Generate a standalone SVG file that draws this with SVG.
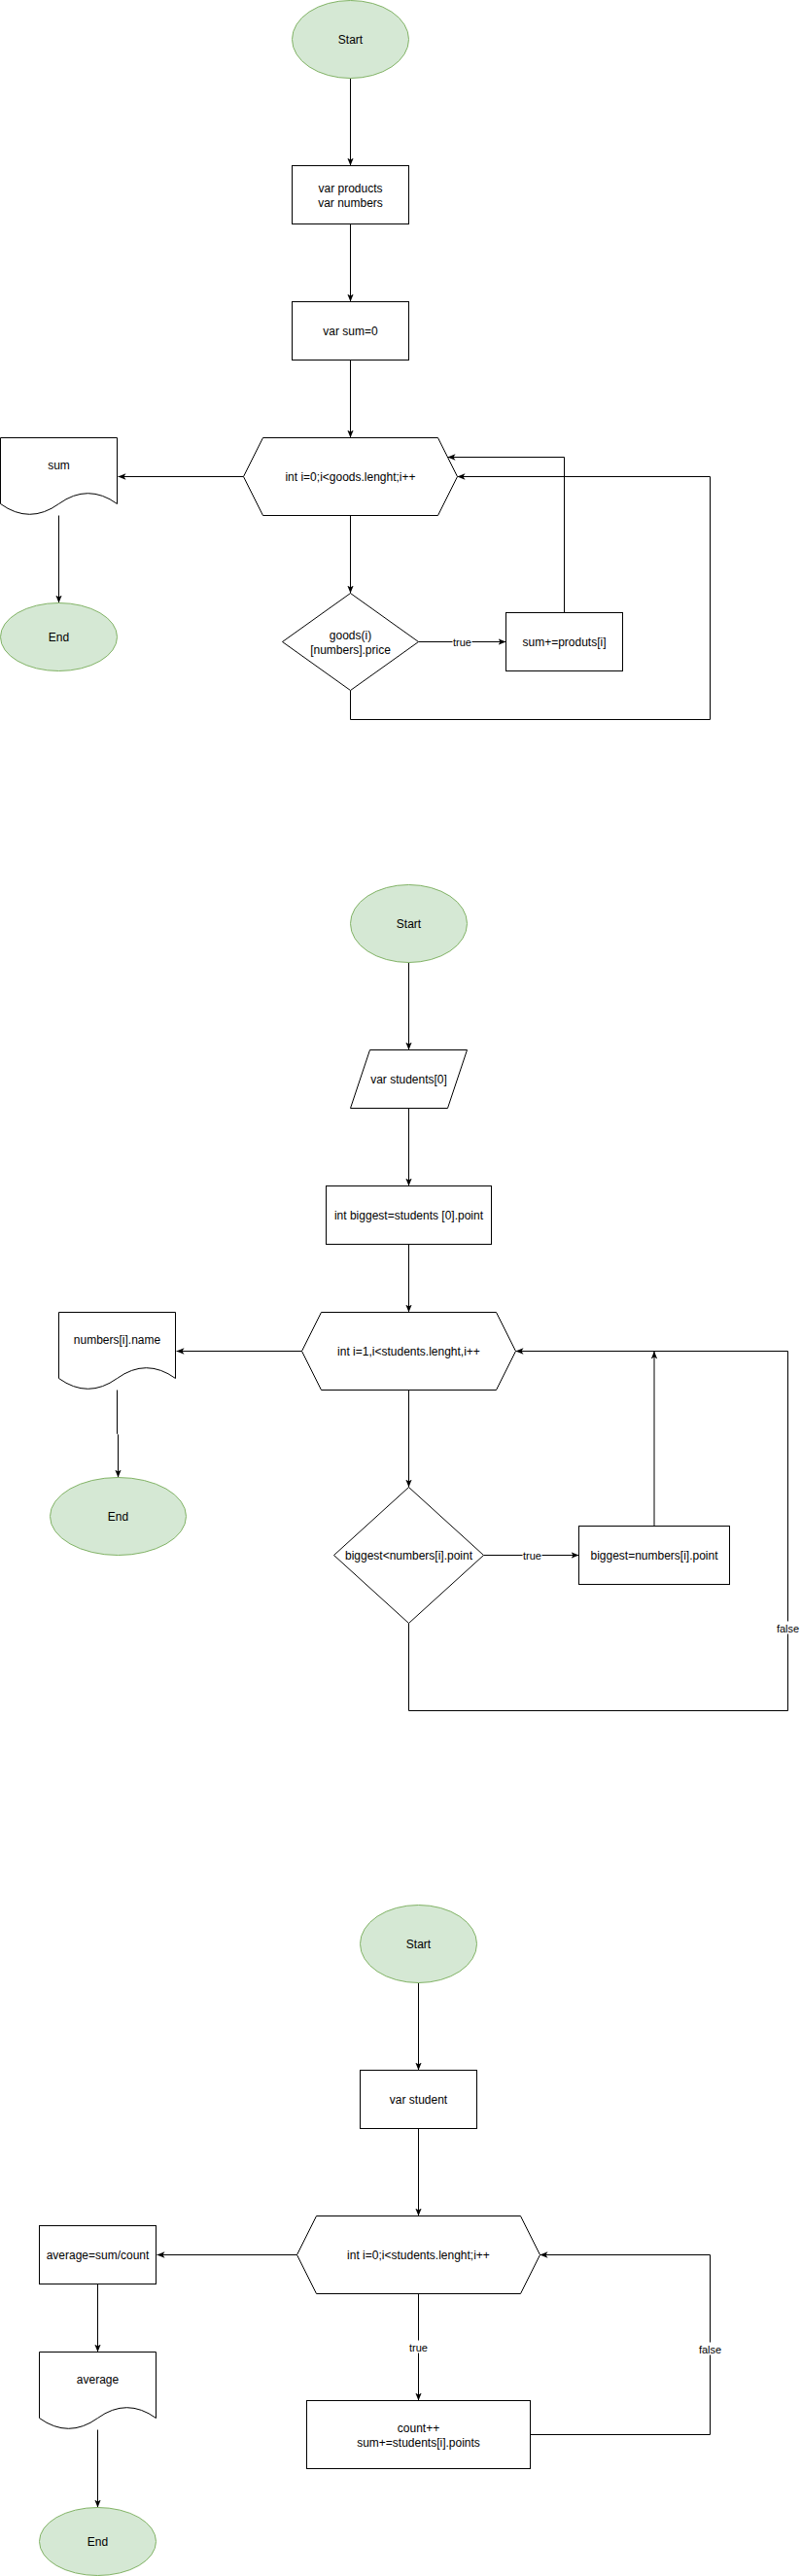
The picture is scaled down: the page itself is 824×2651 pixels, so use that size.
<svg xmlns="http://www.w3.org/2000/svg" width="824" height="2651" viewBox="0 0 824 2651">
<style>
  .term { fill: #d5e8d4; stroke: #82b366; stroke-width: 1; }
  .shape { fill: #ffffff; stroke: #000000; stroke-width: 1; }
  .edge { fill: none; stroke: #000000; stroke-width: 1; }
  .t { font-family: "Liberation Sans", Arial, Helvetica, sans-serif; font-size: 12px; fill: #000000; text-anchor: middle; }
  .lbl { font-family: "Liberation Sans", Arial, Helvetica, sans-serif; font-size: 11px; fill: #000000; text-anchor: middle; }
  .lblbg { fill: #ffffff; stroke: none; }
</style>
<defs>
  <marker id="arr" viewBox="0 0 8 8" refX="8" refY="4" markerWidth="8" markerHeight="8" markerUnits="userSpaceOnUse" orient="auto">
    <path d="M0,0.8 L8,4 L0,7.2 L2,4 Z" fill="#000000"/>
  </marker>
</defs>
<rect x="0" y="0" width="824" height="2651" fill="#ffffff"/>
<g transform="translate(0.5,0.5)">
  <g id="connectors">
    <!-- chart 1 -->
    <path class="edge" d="M360,80 L360,170" marker-end="url(#arr)"/>
    <path class="edge" d="M360,230 L360,310" marker-end="url(#arr)"/>
    <path class="edge" d="M360,370 L360,450" marker-end="url(#arr)"/>
    <path class="edge" d="M250,490 L121,490" marker-end="url(#arr)"/>
    <path class="edge" d="M60,530 L60,620" marker-end="url(#arr)"/>
    <path class="edge" d="M360,530 L360,610" marker-end="url(#arr)"/>
    <path class="edge" d="M430,660 L520,660" marker-end="url(#arr)"/>
    <path class="edge" d="M580,630 L580,470 L460,470" marker-end="url(#arr)"/>
    <path class="edge" d="M360,710 L360,740 L730,740 L730,490 L470,490" marker-end="url(#arr)"/>
    <rect class="lblbg" x="465" y="653" width="20" height="13"/>
    <text class="lbl" x="475" y="664">true</text>
    <!-- chart 2 -->
    <path class="edge" d="M420,990 L420,1080" marker-end="url(#arr)"/>
    <path class="edge" d="M420,1140 L420,1220" marker-end="url(#arr)"/>
    <path class="edge" d="M420,1280 L420,1350" marker-end="url(#arr)"/>
    <path class="edge" d="M310,1390 L181,1390" marker-end="url(#arr)"/>
    <path class="edge" d="M120,1430 L120,1475 L121,1476 L121,1520" marker-end="url(#arr)"/>
    <path class="edge" d="M420,1430 L420,1530" marker-end="url(#arr)"/>
    <path class="edge" d="M497,1600 L595,1600" marker-end="url(#arr)"/>
    <path class="edge" d="M672.5,1570 L672.5,1390" marker-end="url(#arr)"/>
    <path class="edge" d="M420,1670 L420,1760 L810,1760 L810,1390 L530,1390" marker-end="url(#arr)"/>
    <rect class="lblbg" x="537" y="1593" width="20" height="13"/>
    <text class="lbl" x="547" y="1604">true</text>
    <rect class="lblbg" x="798" y="1668" width="25" height="13"/>
    <text class="lbl" x="810" y="1679">false</text>
    <!-- chart 3 -->
    <path class="edge" d="M430,2040 L430,2130" marker-end="url(#arr)"/>
    <path class="edge" d="M430,2190 L430,2280" marker-end="url(#arr)"/>
    <path class="edge" d="M305,2320 L161,2320" marker-end="url(#arr)"/>
    <path class="edge" d="M100,2350 L100,2420" marker-end="url(#arr)"/>
    <path class="edge" d="M100,2500 L100,2580" marker-end="url(#arr)"/>
    <path class="edge" d="M430,2360 L430,2470" marker-end="url(#arr)"/>
    <path class="edge" d="M545,2505 L730,2505 L730,2320 L555,2320" marker-end="url(#arr)"/>
    <rect class="lblbg" x="420" y="2408" width="20" height="13"/>
    <text class="lbl" x="430" y="2419">true</text>
    <rect class="lblbg" x="718" y="2410" width="25" height="13"/>
    <text class="lbl" x="730" y="2421">false</text>
  </g>

  <!-- chart 1 nodes -->
  <g id="start1">
    <ellipse class="term" cx="360" cy="40" rx="60" ry="40"/>
    <text class="t" x="360" y="44">Start</text>
  </g>
  <g id="vars1">
    <rect class="shape" x="300" y="170" width="120" height="60"/>
    <text class="t" x="360" y="197">var products</text>
    <text class="t" x="360" y="212">var numbers</text>
  </g>
  <g id="sum0">
    <rect class="shape" x="300" y="310" width="120" height="60"/>
    <text class="t" x="360" y="344">var sum=0</text>
  </g>
  <g id="loop1">
    <polygon class="shape" points="270,450 450,450 470,490 450,530 270,530 250,490"/>
    <text class="t" x="360" y="494">int i=0;i&lt;goods.lenght;i++</text>
  </g>
  <g id="out1">
    <path class="shape" d="M0,450 L120,450 L120,518 Q90,496.4 60,518 Q30,539.6 0,518 Z"/>
    <text class="t" x="60" y="482">sum</text>
  </g>
  <g id="end1">
    <ellipse class="term" cx="60" cy="655" rx="60" ry="35"/>
    <text class="t" x="60" y="659">End</text>
  </g>
  <g id="cond1">
    <polygon class="shape" points="360,610 430,660 360,710 290,660"/>
    <text class="t" x="360" y="657">goods(i)</text>
    <text class="t" x="360" y="672">[numbers].price</text>
  </g>
  <g id="add1">
    <rect class="shape" x="520" y="630" width="120" height="60"/>
    <text class="t" x="580" y="664">sum+=produts[i]</text>
  </g>

  <!-- chart 2 nodes -->
  <g id="start2">
    <ellipse class="term" cx="420" cy="950" rx="60" ry="40"/>
    <text class="t" x="420" y="954">Start</text>
  </g>
  <g id="input2">
    <polygon class="shape" points="380,1080 480,1080 460,1140 360,1140"/>
    <text class="t" x="420" y="1114">var students[0]</text>
  </g>
  <g id="init2">
    <rect class="shape" x="335" y="1220" width="170" height="60"/>
    <text class="t" x="420" y="1254">int biggest=students [0].point</text>
  </g>
  <g id="loop2">
    <polygon class="shape" points="330,1350 510,1350 530,1390 510,1430 330,1430 310,1390"/>
    <text class="t" x="420" y="1394">int i=1,i&lt;students.lenght,i++</text>
  </g>
  <g id="out2">
    <path class="shape" d="M60,1350 L180,1350 L180,1418 Q150,1396.4 120,1418 Q90,1439.6 60,1418 Z"/>
    <text class="t" x="120" y="1382">numbers[i].name</text>
  </g>
  <g id="end2">
    <ellipse class="term" cx="121" cy="1560" rx="70" ry="40"/>
    <text class="t" x="121" y="1564">End</text>
  </g>
  <g id="cond2">
    <polygon class="shape" points="420,1530 497,1600 420,1670 343,1600"/>
    <text class="t" x="420" y="1604">biggest&lt;numbers[i].point</text>
  </g>
  <g id="assign2">
    <rect class="shape" x="595" y="1570" width="155" height="60"/>
    <text class="t" x="672.5" y="1604">biggest=numbers[i].point</text>
  </g>

  <!-- chart 3 nodes -->
  <g id="start3">
    <ellipse class="term" cx="430" cy="2000" rx="60" ry="40"/>
    <text class="t" x="430" y="2004">Start</text>
  </g>
  <g id="var3">
    <rect class="shape" x="370" y="2130" width="120" height="60"/>
    <text class="t" x="430" y="2164">var student</text>
  </g>
  <g id="loop3">
    <polygon class="shape" points="325,2280 535,2280 555,2320 535,2360 325,2360 305,2320"/>
    <text class="t" x="430" y="2324">int i=0;i&lt;students.lenght;i++</text>
  </g>
  <g id="avg3">
    <rect class="shape" x="40" y="2290" width="120" height="60"/>
    <text class="t" x="100" y="2324">average=sum/count</text>
  </g>
  <g id="out3">
    <path class="shape" d="M40,2420 L160,2420 L160,2488 Q130,2466.4 100,2488 Q70,2509.6 40,2488 Z"/>
    <text class="t" x="100" y="2452">average</text>
  </g>
  <g id="end3">
    <ellipse class="term" cx="100" cy="2615" rx="60" ry="35"/>
    <text class="t" x="100" y="2619">End</text>
  </g>
  <g id="body3">
    <rect class="shape" x="315" y="2470" width="230" height="70"/>
    <text class="t" x="430" y="2502">count++</text>
    <text class="t" x="430" y="2517">sum+=students[i].points</text>
  </g>
</g>
</svg>
